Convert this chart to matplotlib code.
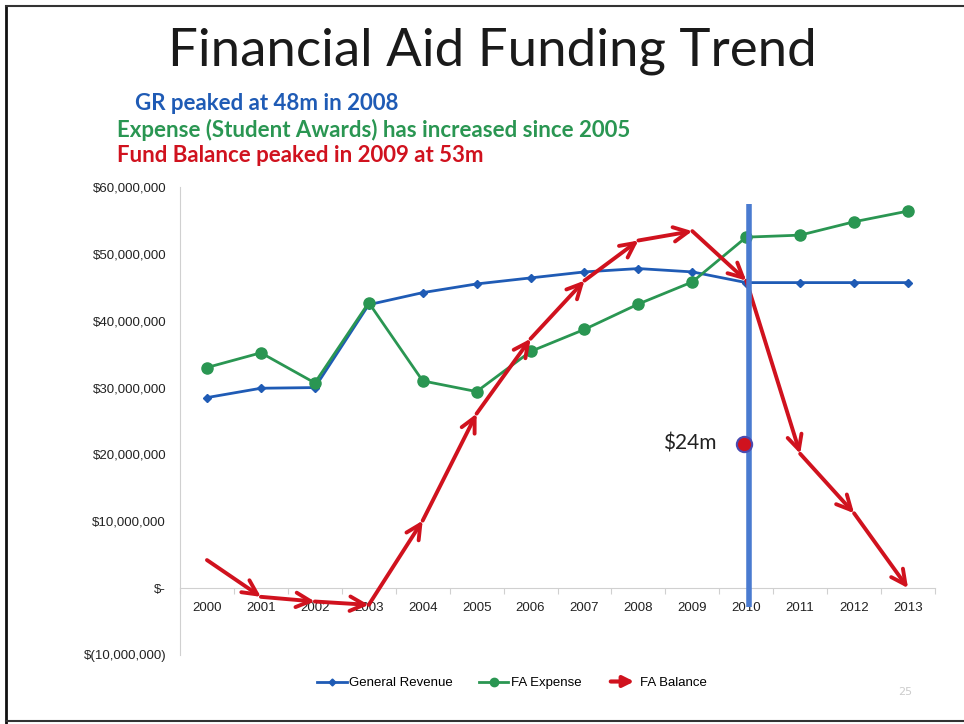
import matplotlib
matplotlib.use("Agg")
import matplotlib.pyplot as plt
from matplotlib.lines import Line2D
from matplotlib.patches import FancyArrowPatch
from matplotlib.legend_handler import HandlerBase
from matplotlib.ticker import FuncFormatter, FixedLocator

years = ["2000", "2001", "2002", "2003", "2004", "2005", "2006",
         "2007", "2008", "2009", "2010", "2011", "2012", "2013"]
general_revenue = [28.5, 29.9, 30.0, 42.4, 44.2, 45.5, 46.4, 47.3, 47.8, 47.3, 45.7, 45.7, 45.7, 45.7]
fa_expense = [33.0, 35.2, 30.7, 42.7, 31.0, 29.4, 35.4, 38.7, 42.5, 45.8, 52.5, 52.8, 54.8, 56.4]
fa_balance = [4.2, -1.3, -2.0, -2.5, 10.1, 26.1, 37.3, 46.0, 52.0, 53.4, 46.0, 20.1, 11.2, 0.0]
callout_value = 21.6
callout_label = "$24m"
yticks_vals = [-10, 0, 10, 20, 30, 40, 50, 60]

BLUE = "#1F5BB5"
GREEN = "#2A9652"
RED = "#D0121E"
VBLUE = "#4A7BD0"

fig = plt.figure(figsize=(9.64, 7.24), dpi=100)
fig.patch.set_facecolor("white")

ax = fig.add_axes([180/964, 1-655/724, (935-180)/964, (655-187)/724])
x = list(range(len(years)))
M = 1e6

ax.plot(x, [v*M for v in general_revenue], color=BLUE, lw=2, marker="D", ms=4, zorder=3)
ax.plot(x, [v*M for v in fa_expense], color=GREEN, lw=2, marker="o", ms=8, zorder=3)

for i in range(len(x)-1):
    ax.annotate("", xy=(x[i+1], fa_balance[i+1]*M), xytext=(x[i], fa_balance[i]*M),
                arrowprops=dict(arrowstyle="->", color=RED, lw=2.8, mutation_scale=26,
                                shrinkA=0, shrinkB=0), zorder=4)

ax.vlines(10.05, -2.8*M, 57.5*M, color=VBLUE, lw=4, zorder=5)
ax.plot([9.95], [callout_value*M], marker="o", ms=11, color=RED, mec="#4A4AB0", mew=1.5, zorder=6)
ax.text(9.45, callout_value*M, callout_label, ha="right", va="center", fontsize=15,
        family="Lato", color="#222222")

ax.set_xlim(-0.5, 13.5)
ax.set_ylim(-10*M, 60*M)
ax.set_yticks([v*M for v in yticks_vals])

def fmt(v, pos):
    if abs(v) < 1:
        return "$-"
    if v < 0:
        return "$({:,.0f})".format(-v)
    return "${:,.0f}".format(v)
ax.yaxis.set_major_formatter(FuncFormatter(fmt))
ax.tick_params(axis="y", length=0, pad=10, labelsize=9.5)
for lbl in ax.get_yticklabels():
    lbl.set_family("Liberation Sans")
    lbl.set_color("#222222")

ax.spines["top"].set_visible(False)
ax.spines["right"].set_visible(False)
ax.spines["left"].set_color("#D0D0D0")
ax.spines["bottom"].set_position(("data", 0))
ax.spines["bottom"].set_color("#D0D0D0")
ax.xaxis.set_major_locator(FixedLocator([i - 0.5 for i in range(len(years)+1)]))
ax.xaxis.set_minor_locator(FixedLocator(x))
ax.xaxis.set_major_formatter(FuncFormatter(lambda v, p: ""))
ax.set_xticks(x, minor=True)
ax.set_xticklabels(years, minor=True)
ax.tick_params(axis="x", which="major", length=4, color="#D0D0D0", direction="out")
ax.tick_params(axis="x", which="minor", length=0, pad=10, labelsize=9.5)
for lbl in ax.get_xticklabels(minor=True):
    lbl.set_family("Liberation Sans")
    lbl.set_color("#222222")

class ArrowHandler(HandlerBase):
    def create_artists(self, legend, orig_handle, xdescent, ydescent, width, height, fontsize, trans):
        p = FancyArrowPatch((-xdescent, height/2 - ydescent), (width - xdescent, height/2 - ydescent),
                            arrowstyle="-|>", mutation_scale=16, color=RED, lw=3, transform=trans)
        return [p]

h1 = Line2D([], [], color=BLUE, lw=2, marker="D", ms=3.5)
h2 = Line2D([], [], color=GREEN, lw=2, marker="o", ms=6)
h3 = Line2D([], [], color=RED)
fig.legend([h1, h2, h3], ["General Revenue", "FA Expense", "FA Balance"],
           handler_map={h3: ArrowHandler()}, loc="center", bbox_to_anchor=(512/964, 1-683/724),
           ncol=3, frameon=False, prop={"family": "Liberation Sans", "size": 9.5},
           handlelength=2.2, handletextpad=0.2, columnspacing=2.0)

fig.text(492/964, 1-51/724, "Financial Aid Funding Trend", ha="center", va="center",
         fontsize=38, family="Lato", color="#1A1A1A")
fig.text(135/964, 1-104/724, "GR peaked at 48m in 2008", ha="left", va="center",
         fontsize=16, family="Lato", weight="bold", color=BLUE)
fig.text(117/964, 1-130/724, "Expense (Student Awards) has increased since 2005", ha="left", va="center",
         fontsize=16, family="Lato", weight="bold", color=GREEN)
fig.text(117/964, 1-156/724, "Fund Balance peaked in 2009 at 53m", ha="left", va="center",
         fontsize=16, family="Lato", weight="bold", color=RED)
fig.text(905/964, 1-692/724, "25", ha="center", va="center", fontsize=8, color="#CCCCCC")

# slide border
fig.add_artist(Line2D([6/964, 6/964], [0, 1-6/724], transform=fig.transFigure, color="#111111", lw=2))
fig.add_artist(Line2D([6/964, 1], [1-6/724, 1-6/724], transform=fig.transFigure, color="#333333", lw=1.5))
fig.add_artist(Line2D([6/964, 1], [3/724, 3/724], transform=fig.transFigure, color="#333333", lw=1.5))

fig.savefig("out.png", dpi=100)
